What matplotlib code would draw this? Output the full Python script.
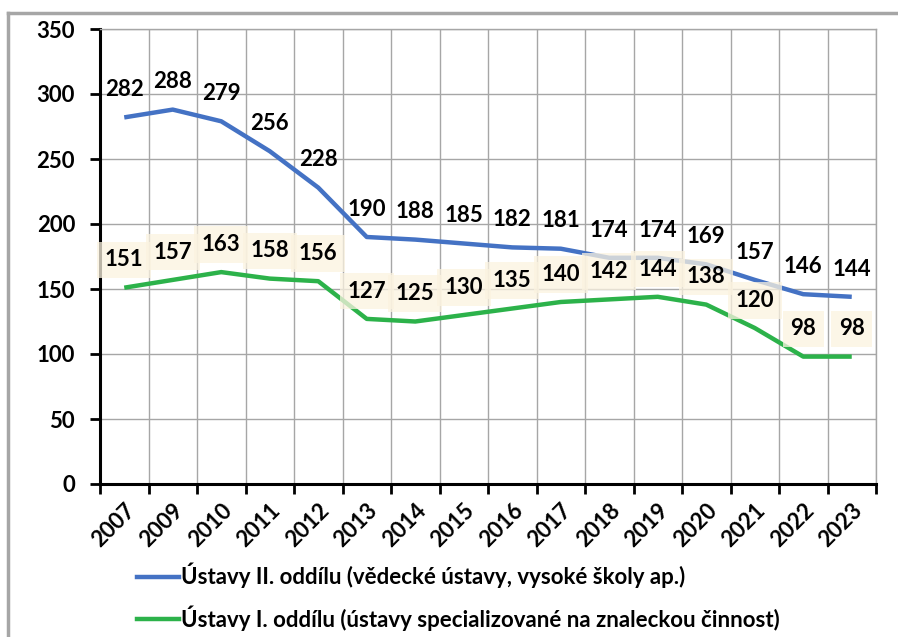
import matplotlib
matplotlib.use("Agg")
import matplotlib.pyplot as plt
import numpy as np
from matplotlib.lines import Line2D

plt.rcParams["font.family"] = ["Lato", "DejaVu Sans"]
plt.rcParams["font.weight"] = "bold"

years = ["2007", "2009", "2010", "2011", "2012", "2013", "2014", "2015",
         "2016", "2017", "2018", "2019", "2020", "2021", "2022", "2023"]
ustavy_ii = [282, 288, 279, 256, 228, 190, 188, 185, 182, 181, 174, 174, 169, 157, 146, 144]
ustavy_i = [151, 157, 163, 158, 156, 127, 125, 130, 135, 140, 142, 144, 138, 120, 98, 98]

label_ii = "Ústavy II. oddílu (vědecké ústavy, vysoké školy ap.)"
label_i = "Ústavy I. oddílu (ústavy specializované na znaleckou činnost)"

blue = "#4472C4"
green = "#2CB24A"
fs = 16

fig = plt.figure(figsize=(8.98, 6.37), dpi=100)
ax = fig.add_axes([100 / 898, 1 - 484 / 637, 776 / 898, 455 / 637])

x = np.arange(len(years))
ax.plot(x, ustavy_ii, color=blue, lw=3.2, solid_capstyle="butt", zorder=3)
ax.plot(x, ustavy_i, color=green, lw=3.2, solid_capstyle="butt", zorder=3)

# popisky hodnot
for xi, v in zip(x, ustavy_ii):
    ax.annotate(str(v), (xi, v), xytext=(0, 20), textcoords="offset points",
                ha="center", va="center", fontsize=fs, fontweight="bold", zorder=5)
for xi, v in zip(x, ustavy_i):
    ax.annotate(str(v), (xi, v), xytext=(0, 20), textcoords="offset points",
                ha="center", va="center", fontsize=fs, fontweight="bold", zorder=5,
                bbox=dict(boxstyle="square,pad=0.35", fc="#FBF3E0", ec="none", alpha=0.75))

ax.set_xlim(-0.5, len(years) - 0.5)
ax.set_ylim(0, 350)
ax.set_yticks(np.arange(0, 351, 50))

# kategorie: popisky uprostred, mrizka a carky na hranicich
ax.set_xticks(x)
ax.set_xticklabels(years, rotation=45, ha="right", rotation_mode="anchor", fontsize=fs, fontweight="bold")
ax.tick_params(axis="x", which="major", length=0, pad=11)
ax.set_xticks(np.arange(-0.5, len(years)), minor=True)
ax.tick_params(axis="x", which="minor", length=7, width=2, direction="out", color="black")
ax.tick_params(axis="y", length=7, width=2, direction="out", pad=11, labelsize=fs)
for lbl in ax.get_yticklabels():
    lbl.set_fontweight("bold")

ax.grid(True, which="minor", axis="x", color="#A6A6A6", lw=1)
ax.grid(True, which="major", axis="y", color="#A6A6A6", lw=1)
ax.set_axisbelow(True)

ax.spines["left"].set_linewidth(2.2)
ax.spines["bottom"].set_linewidth(2.2)
ax.spines["top"].set_color("#A6A6A6")
ax.spines["right"].set_color("#A6A6A6")
ax.spines["top"].set_linewidth(1)
ax.spines["right"].set_linewidth(1)

handles = [Line2D([], [], color=blue, lw=3.2), Line2D([], [], color=green, lw=3.2)]
fig.legend(handles, [label_ii, label_i], loc="upper left",
           bbox_to_anchor=(137 / 898, 1 - 563 / 637), bbox_transform=fig.transFigure,
           frameon=False, fontsize=16, handlelength=1.9, handletextpad=0.1,
           labelspacing=0.75, borderpad=0, borderaxespad=0)

# vnejsi ramecek grafu (horni a leva hrana)
fig.add_artist(Line2D([8 / 898, 8 / 898], [0, 1 - 13 / 637], color="#A6A6A6", lw=2.5,
                      transform=fig.transFigure))
fig.add_artist(Line2D([8 / 898, 1], [1 - 13 / 637, 1 - 13 / 637], color="#A6A6A6", lw=2.5,
                      transform=fig.transFigure))

fig.savefig("out.png", dpi=100)
